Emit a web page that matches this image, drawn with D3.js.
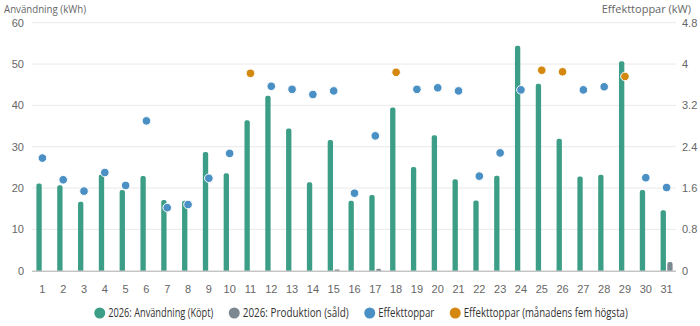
<!DOCTYPE html>
<html>
<head>
<meta charset="utf-8">
<style>
  body { margin: 0; background: #fff; }
  svg { display: block; font-family: "Open Sans", "Liberation Sans", sans-serif; }
</style>
</head>
<body>
<div id="chart"></div>
<script src="https://d3js.org/d3.v7.min.js"></script>
<script>
const days = d3.range(1, 32).map(String);
// kWh per day, bought
const usage = [21.1, 20.7, 16.7, 23.3, 19.5, 22.9, 17.1, 16.9, 28.7, 23.6,
               36.4, 42.3, 34.4, 21.4, 31.6, 16.9, 18.3, 39.5, 25.1, 32.8,
               22.1, 17.0, 23.0, 54.4, 45.2, 31.9, 22.8, 23.2, 50.7, 19.5, 14.6];
// kWh per day, sold
const production = [0, 0, 0, 0, 0, 0, 0, 0, 0, 0, 0, 0, 0, 0, 0.3, 0, 0.5, 0, 0, 0,
                    0, 0, 0, 0, 0, 0, 0, 0, 0, 0, 2.1];
// kW peak per day (null = shown as one of the top five)
const peaks = [2.18, 1.76, 1.54, 1.90, 1.65, 2.90, 1.22, 1.28, 1.79, 2.27,
               null, 3.57, 3.51, 3.41, 3.48, 1.50, 2.61, null, 3.51, 3.54,
               3.48, 1.83, 2.28, 3.50, null, null, 3.50, 3.56, null, 1.80, 1.61];
const topPeaks = [null, null, null, null, null, null, null, null, null, null,
                  3.82, null, null, null, null, null, null, 3.84, null, null,
                  null, null, null, null, 3.88, 3.85, null, null, 3.76, null, null];
const leftTicks = [0, 10, 20, 30, 40, 50, 60];
const rightTicks = [0, 0.8, 1.6, 2.4, 3.2, 4, 4.8];
const legendItems = [
  {name: '2026: Användning (Köpt)', color: '#3d9e87'},
  {name: '2026: Produktion (såld)', color: '#7b8891'},
  {name: 'Effekttoppar', color: '#4a90c4'},
  {name: 'Effekttoppar (månadens fem högsta)', color: '#d4880f'}
];
// text widths in the reference font (narrow), used to squeeze ours
const legendTextWidths = [105, 106, 56, 164];

const width = 700, height = 326;
const plotLeft = 32, plotRight = 677, plotTop = 22.7, plotBottom = 270.7;

const svg = d3.select('#chart').append('svg')
  .attr('width', width)
  .attr('height', height);

const x = d3.scaleBand().domain(days).range([plotLeft, plotRight]).padding(0);
const xSub = d3.scaleBand().domain(['kopt', 'sald']).range([-6, 6]).paddingInner(0.2);
const yL = d3.scaleLinear().domain([0, 60]).range([plotBottom, plotTop]);
const yR = d3.scaleLinear().domain([0, 4.8]).range([plotBottom, plotTop]);

// gridlines
svg.append('g')
  .selectAll('line')
  .data(leftTicks.slice(1))
  .join('line')
    .attr('x1', plotLeft).attr('x2', plotRight - 1)
    .attr('y1', d => yL(d)).attr('y2', d => yL(d))
    .attr('stroke', '#e9e9e9')

// left axis
const axL = svg.append('g')
  .attr('transform', `translate(${plotLeft - 8},0)`)
  .call(d3.axisLeft(yL).tickValues(leftTicks).tickSize(0).tickPadding(0))
axL.select('.domain').remove()
axL.selectAll('text').attr('fill', '#666').style('font-size', '11px')

// right axis
const axR = svg.append('g')
  .attr('transform', `translate(${plotRight + 5},0)`)
  .call(d3.axisRight(yR).tickValues(rightTicks).tickSize(0).tickPadding(0).tickFormat(d => String(d)))
axR.select('.domain').remove()
axR.selectAll('text').attr('fill', '#666').style('font-size', '11px')

// x axis labels
const axX = svg.append('g')
  .attr('transform', `translate(0,${plotBottom + 12})`)
  .call(d3.axisBottom(x).tickSize(0).tickPadding(0))
axX.select('.domain').remove()
axX.selectAll('text').attr('fill', '#666').style('font-size', '11px').attr('dy', '0.9em')

// axis titles
svg.append('text')
  .attr('x', 4).attr('y', 12.5)
  .attr('fill', '#666').style('font-size', '11.5px')
  .attr('textLength', 82).attr('lengthAdjust', 'spacingAndGlyphs')
  .text('Användning (kWh)')
svg.append('text')
  .attr('x', 691).attr('y', 13)
  .attr('text-anchor', 'end')
  .attr('fill', '#666').style('font-size', '11px')
  .text('Effekttoppar (kW)')

// bar with rounded top
function barPath(x0, w, y0, y1) {
  const h = y1 - y0;
  if (h <= 0) return '';
  const r = Math.min(2, w / 2, h);
  return `M${x0},${y1}V${y0 + r}Q${x0},${y0} ${x0 + r},${y0}H${x0 + w - r}Q${x0 + w},${y0} ${x0 + w},${y0 + r}V${y1}Z`;
}

const center = d => x(d) + x.bandwidth() / 2;

svg.append('g')
  .selectAll('path')
  .data(days)
  .join('path')
    .attr('fill', legendItems[0].color)
    .attr('d', (d, i) => barPath(center(d) + xSub('kopt'), xSub.bandwidth(), yL(usage[i]), yL(0)))

svg.append('g')
  .selectAll('path')
  .data(days)
  .join('path')
    .attr('fill', legendItems[1].color)
    .attr('d', (d, i) => barPath(center(d) + xSub('sald'), xSub.bandwidth(), yL(production[i]), yL(0)))

// baseline
svg.append('line')
  .attr('x1', plotLeft).attr('x2', plotRight - 1)
  .attr('y1', plotBottom + 0.5).attr('y2', plotBottom + 0.5)
  .attr('stroke', '#aaa')

// peak dots
function dots(values, color) {
  svg.append('g')
    .selectAll('circle')
    .data(days.filter((d, i) => values[i] != null))
    .join('circle')
      .attr('cx', d => center(d))
      .attr('cy', d => yR(values[days.indexOf(d)]))
      .attr('r', 4.3)
      .attr('fill', color)
      .attr('stroke', '#fff')
      .attr('stroke-width', 1)
}
dots(peaks, legendItems[2].color)
dots(topPeaks, legendItems[3].color)

// legend
const legend = svg.append('g').attr('transform', 'translate(0,313)')
const items = legend.selectAll('g')
  .data(legendItems)
  .join('g')
items.append('circle').attr('r', 5.5).attr('fill', d => d.color)
items.append('text')
  .attr('x', 8.5).attr('dy', '0.35em')
  .attr('fill', '#333')
  .style('font-size', '12px')
  .attr('textLength', (d, i) => legendTextWidths[i])
  .attr('lengthAdjust', 'spacingAndGlyphs')
  .text(d => d.name)

const gap = 15.5;
const legendCenter = 361;
const itemWidths = legendTextWidths.map(w => w + 8.5 + 5.5);
const total = d3.sum(itemWidths) + gap * (itemWidths.length - 1);
let pos = legendCenter - total / 2 + 5.5;
items.attr('transform', (d, i) => {
  const t = `translate(${pos},0)`;
  pos += itemWidths[i] + gap;
  return t;
})
</script>
</body>
</html>
